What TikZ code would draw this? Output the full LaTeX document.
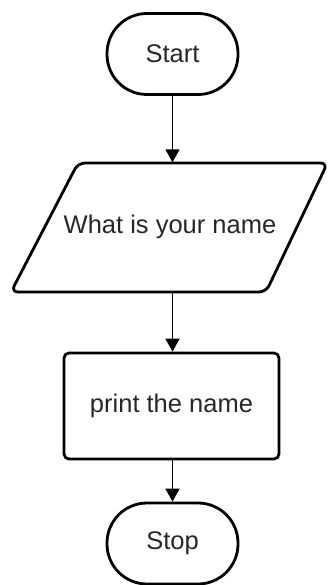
\documentclass[tikz,border=0pt]{standalone}
\usepackage{fontspec}
\setmainfont{Liberation Sans}
\usetikzlibrary{arrows.meta}
\begin{document}
\begin{tikzpicture}[x=1pt,y=-1pt,
  shapeline/.style={line width=2.8pt, draw=black, line join=round},
  label/.style={font=\fontsize{25.5}{30}\selectfont, text=black!85},
  terminal/.style={shapeline, rounded corners=40pt, minimum width=131pt, minimum height=81pt, inner sep=0pt, label},
  procbox/.style={shapeline, rounded corners=5pt, minimum width=215pt, minimum height=106pt, inner sep=0pt, label},
  flow/.style={line width=1.8pt, -{Triangle[length=13pt,width=14pt]}}]
\useasboundingbox (0,0) rectangle (329,585);
\node[terminal] (start) at (172.5,54) {Start};
\node[label, minimum width=316pt, minimum height=129pt, inner sep=0pt] (ask) at (170,227) {What is your name};
\draw[shapeline, rounded corners=7pt] (78,163) -- (327.5,163) -- (266,292) -- (11,292) -- cycle;
\node[procbox] (print) at (171.5,406) {print the name};
\node[terminal] (stop) at (172.5,543.5) {Stop};
\draw[flow] (start.south) -- (ask.north -| start.south);
\draw[flow] (ask.south -| start.south) -- (print.north -| start.south);
\draw[flow] (print.south -| start.south) -- (stop.north);
\end{tikzpicture}
\end{document}
